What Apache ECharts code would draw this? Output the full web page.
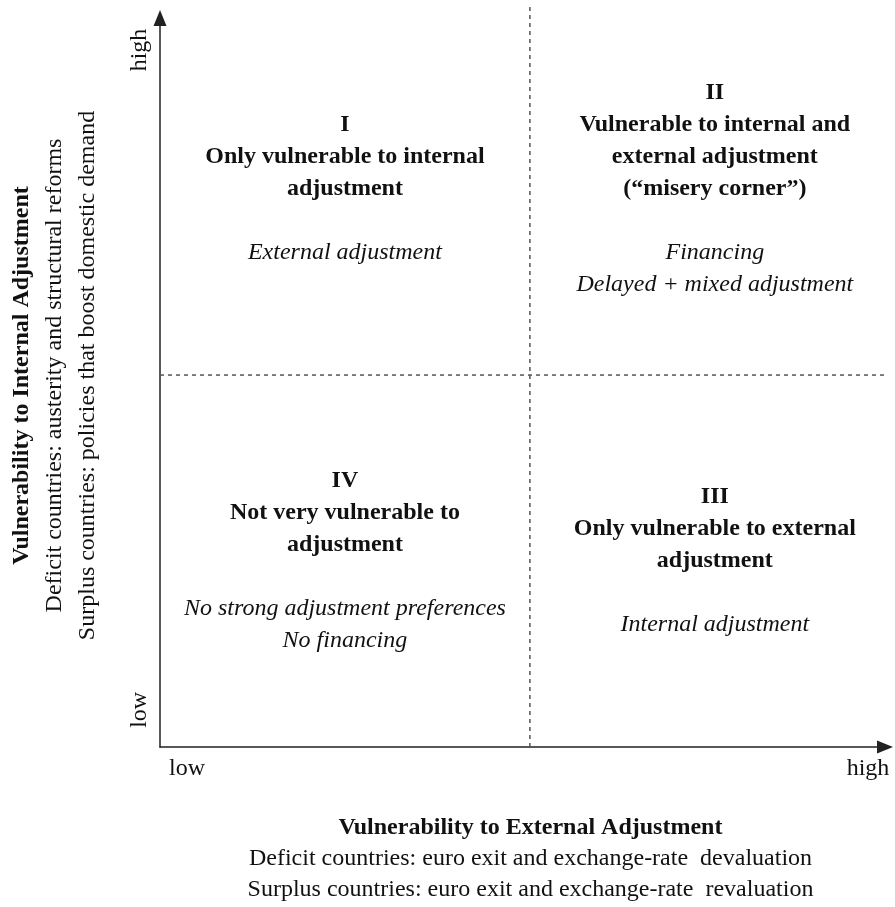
<!DOCTYPE html>
<html>
<head>
<meta charset="utf-8">
<script src="https://cdn.jsdelivr.net/npm/echarts@6/dist/echarts.min.js"></script>
<style>html,body{margin:0;padding:0;background:#fff}#c{width:895px;height:907px}</style>
</head>
<body>
<div id="c"></div>
<script>
// ---- data ----
const quadrantNumbers = ['I', 'II', 'III', 'IV'];
const quadrantTitles = [
  ['Only vulnerable to internal', 'adjustment'],
  ['Vulnerable to internal and', 'external adjustment', '(\u201cmisery corner\u201d)'],
  ['Only vulnerable to external', 'adjustment'],
  ['Not very vulnerable to', 'adjustment']
];
const quadrantNotes = [
  ['External adjustment'],
  ['Financing', 'Delayed + mixed adjustment'],
  ['Internal adjustment'],
  ['No strong adjustment preferences', 'No financing']
];
const quadrantExternal = [0.5, 1.5, 1.5, 0.5];   // vulnerability to external adjustment
const quadrantInternal = [1.5, 1.5, 0.5, 0.5];   // vulnerability to internal adjustment
const xTickLabels = ['low', 'high'];
const yTickLabels = ['low', 'high'];
const xTickValues = [0.073, 1.914];
const yTickValues = [0.1, 1.874];
const dividerVertical = [[1, 0], [1, 1.995]];
const dividerHorizontal = [[0, 1], [1.98, 1]];
const xTitle = 'Vulnerability to External Adjustment';
const xSubtitles = ['Deficit countries: euro exit and exchange-rate  devaluation',
                    'Surplus countries: euro exit and exchange-rate  revaluation'];
const yTitle = 'Vulnerability to Internal Adjustment';
const ySubtitles = ['Deficit countries: austerity and structural reforms',
                    'Surplus countries: policies that boost domestic demand'];

// ---- chart ----
const FONT = '"Liberation Serif", "Times New Roman", serif';
const TXT = '#111';
const chart = echarts.init(document.getElementById('c'), null, {renderer: 'canvas'});

const quadData = quadrantNumbers.map((n, i) => ({
  value: [quadrantExternal[i], quadrantInternal[i]],
  num: n, titles: quadrantTitles[i], notes: quadrantNotes[i]
}));

function quadFormatter(p) {
  const d = p.data;
  const lines = ['{b|' + d.num + '}'];
  d.titles.forEach(t => lines.push('{b|' + t + '}'));
  lines.push('{b| }');
  d.notes.forEach(t => lines.push('{i|' + t + '}'));
  return lines.join('\n');
}

const dashStyle = {color: '#555', width: 1.5, type: [4, 4]};
const axisLineCfg = {show: true, symbol: ['none', 'triangle'], symbolSize: [13, 16],
                     lineStyle: {color: '#222', width: 1.5}};

chart.setOption({
  backgroundColor: '#fff',
  animation: false,
  grid: {left: 160, right: 10, top: 18, bottom: 160, containLabel: false},
  xAxis: {
    type: 'value', min: 0, max: 1.96,
    splitLine: {show: false},
    axisTick: {show: false},
    axisLine: axisLineCfg,
    axisLabel: {
      customValues: xTickValues,
      formatter: v => xTickLabels[xTickValues.indexOf(v)],
      color: TXT, fontFamily: FONT, fontSize: 24, margin: 10
    },
    name: '{t|' + xTitle + '}\n' + xSubtitles.map(s => '{s|' + s + '}').join('\n'),
    nameLocation: 'middle', nameGap: 65,
    nameTextStyle: {
      padding: [0, 0, 0, 16],
      rich: {
        t: {fontFamily: FONT, fontSize: 24, fontWeight: 'bold', color: TXT, lineHeight: 31},
        s: {fontFamily: FONT, fontSize: 24, color: TXT, lineHeight: 31}
      }
    }
  },
  yAxis: {
    type: 'value', min: 0, max: 1.96,
    splitLine: {show: false},
    axisTick: {show: false},
    axisLine: axisLineCfg,
    axisLabel: {
      customValues: yTickValues,
      formatter: v => yTickLabels[yTickValues.indexOf(v)],
      rotate: 90,
      color: TXT, fontFamily: FONT, fontSize: 24, margin: 8
    },
    name: '{t|' + yTitle + '}\n' + ySubtitles.map(s => '{s|' + s + '}').join('\n'),
    nameLocation: 'middle', nameRotate: 90, nameGap: 56,
    nameTextStyle: {
      padding: [0, 0, 0, 14],
      rich: {
        t: {fontFamily: FONT, fontSize: 24, fontWeight: 'bold', color: TXT, lineHeight: 33},
        s: {fontFamily: FONT, fontSize: 24, color: TXT, lineHeight: 33}
      }
    }
  },
  series: [
    {
      type: 'line', data: dividerVertical, clip: false, symbol: 'none',
      lineStyle: dashStyle, silent: true, z: 1
    },
    {
      type: 'line', data: dividerHorizontal, clip: false, symbol: 'none',
      lineStyle: dashStyle, silent: true, z: 1
    },
    {
      type: 'scatter', data: quadData, symbolSize: 0, silent: true,
      itemStyle: {opacity: 1},
      label: {
        show: true, position: 'inside', formatter: quadFormatter, opacity: 1,
        lineHeight: 32, align: 'center', verticalAlign: 'middle',
        rich: {
          b: {fontFamily: FONT, fontSize: 24, fontWeight: 'bold', color: TXT, lineHeight: 32, align: 'center'},
          i: {fontFamily: FONT, fontSize: 24, fontStyle: 'italic', color: TXT, lineHeight: 32, align: 'center'}
        }
      }
    }
  ]
});
</script>
</body>
</html>
